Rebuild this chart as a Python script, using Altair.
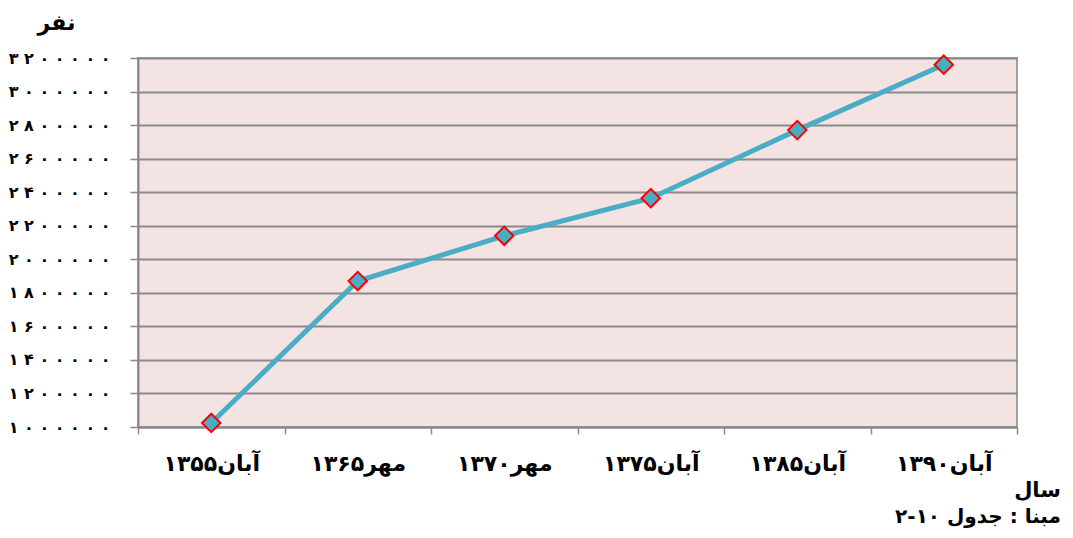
import altair as alt
import pandas as pd

years = ["آبان۱۳۵۵", "مهر۱۳۶۵", "مهر۱۳۷۰", "آبان۱۳۷۵", "آبان۱۳۸۵", "آبان۱۳۹۰"]
population = [1024000, 1870000, 2140000, 2364000, 2770000, 3160000]

y_tick_values = [1000000, 1200000, 1400000, 1600000, 1800000, 2000000,
                 2200000, 2400000, 2600000, 2800000, 3000000, 3200000]
y_tick_labels = ["۱ ۰ ۰ ۰ ۰ ۰ ۰", "۱ ۲ ۰ ۰ ۰ ۰ ۰", "۱ ۴ ۰ ۰ ۰ ۰ ۰", "۱ ۶ ۰ ۰ ۰ ۰ ۰",
                 "۱ ۸ ۰ ۰ ۰ ۰ ۰", "۲ ۰ ۰ ۰ ۰ ۰ ۰", "۲ ۲ ۰ ۰ ۰ ۰ ۰", "۲ ۴ ۰ ۰ ۰ ۰ ۰",
                 "۲ ۶ ۰ ۰ ۰ ۰ ۰", "۲ ۸ ۰ ۰ ۰ ۰ ۰", "۳ ۰ ۰ ۰ ۰ ۰ ۰", "۳ ۲ ۰ ۰ ۰ ۰ ۰"]

y_title = "نفر"
x_title = "سال"
caption = "مبنا : جدول ۱۰-۲"

FONT = "DejaVu Sans"
GRAY = "#8a8a8a"

df = pd.DataFrame({"year": years, "pop": population})

label_array = "[" + ",".join("'" + l + "'" for l in y_tick_labels) + "]"
label_expr = label_array + "[round((datum.value - 1000000) / 200000)]"

x_enc = alt.X(
    "year:N",
    sort=years,
    scale=alt.Scale(type="band", paddingInner=0, paddingOuter=0),
    axis=alt.Axis(
        title=x_title, labelAngle=0, tickBand="extent", grid=False,
        labelFont=FONT, labelFontSize=22, labelFontWeight="bold", labelColor="black",
        labelPadding=19, tickSize=7, tickColor=GRAY, tickWidth=1.5,
        domainColor=GRAY, domainWidth=2, labelOverlap=False,
        titleFont=FONT, titleFontSize=21, titleFontWeight="bold", titleColor="black",
        titleX=899, titleY=63, titleAlign="center", titleBaseline="middle",
    ),
)
y_enc = alt.Y(
    "pop:Q",
    scale=alt.Scale(domain=[1000000, 3200000], nice=False, zero=False),
    axis=alt.Axis(
        title=y_title, values=y_tick_values, labelExpr=label_expr,
        labelFont=FONT, labelFontSize=16, labelFontWeight="bold", labelColor="black",
        labelPadding=20, tickSize=8, tickColor=GRAY, tickWidth=1.5,
        domainColor=GRAY, domainWidth=2, labelOverlap=False, labelBound=False,
        grid=True, gridColor=GRAY, gridWidth=2,
        titleFont=FONT, titleFontSize=22, titleFontWeight="bold", titleColor="black",
        titleAngle=0, titleX=-82, titleY=-36, titleAlign="center", titleBaseline="middle",
    ),
)

base = alt.Chart(df).encode(x=x_enc, y=y_enc)
line = base.mark_line(color="#4BACC6", strokeWidth=5)
points = base.mark_point(
    shape="diamond", size=340, filled=True, fill="#4BACC6", stroke="#ff0000",
    strokeWidth=2, opacity=1,
)

cap = alt.Chart(pd.DataFrame({"t": [caption]})).mark_text(
    font=FONT, fontSize=20, fontWeight="bold", color="black",
    align="center", baseline="middle",
).encode(text="t:N", x=alt.value(840), y=alt.value(459))

chart = alt.layer(line, points, cap).properties(
    width=879, height=369,
    padding={"left": 130, "top": 50, "right": 48, "bottom": 103},
    autosize=alt.AutoSizeParams(type="none"),
).configure_view(
    fill="#F3E3E3", stroke="#a0a0a0", strokeWidth=2,
)

chart.save("out.html", embed_options={"renderer": "svg", "actions": False})
